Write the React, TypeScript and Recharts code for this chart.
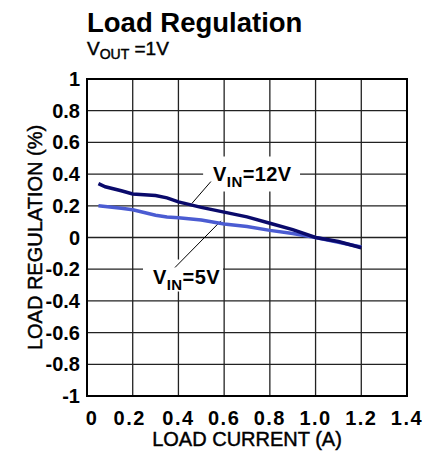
import {
  LineChart,
  Line,
  XAxis,
  YAxis,
  CartesianGrid,
  ReferenceArea,
  ReferenceLine,
} from "recharts";

const FONT = "'Liberation Sans', Arial, Helvetica, sans-serif";

const current = [0.05, 0.08, 0.15, 0.2, 0.3, 0.35, 0.4, 0.5, 0.6, 0.7, 0.8, 0.9, 1.0, 1.1, 1.2];
const vin12 = [0.34, 0.32, 0.295, 0.275, 0.265, 0.25, 0.225, 0.19, 0.16, 0.13, 0.09, 0.05, 0.0, -0.025, -0.065];
const vin5 = [0.2, 0.195, 0.185, 0.175, 0.14, 0.13, 0.125, 0.11, 0.085, 0.07, 0.045, 0.025, 0.0, -0.03, -0.06];

const xTicks = [0, 0.2, 0.4, 0.6, 0.8, 1.0, 1.2, 1.4];
const xTickLabels = ["0", "0.2", "0.4", "0.6", "0.8", "1.0", "1.2", "1.4"];
const yTicks = [1, 0.8, 0.6, 0.4, 0.2, 0, -0.2, -0.4, -0.6, -0.8, -1];
const yTickLabels = ["1", "0.8", "0.6", "0.4", "0.2", "0", "-0.2", "-0.4", "-0.6", "-0.8", "-1"];

const data = current.map((c, i) => ({ current: c, vin12: vin12[i], vin5: vin5[i] }));

// slightly heavier than regular, like the scanned datasheet text
const heavy = { stroke: "#000", strokeWidth: 0.45 };

const XTick = ({ x, y, payload }: any) => {
  const i = xTicks.indexOf(payload.value);
  const off = payload.value === 0 ? 5 : payload.value === 0.2 ? -3 : 0;
  return (
    <text x={x + off} y={y + 29} textAnchor="middle" fontFamily={FONT} fontSize={20} fontWeight="bold" letterSpacing={1.5} fill="#000">
      {xTickLabels[i]}
    </text>
  );
};

const YTick = ({ x, y, payload }: any) => {
  const i = yTicks.indexOf(payload.value);
  return (
    <text x={x} y={y + 7} textAnchor="end" fontFamily={FONT} fontSize={20} fontWeight="bold" fill="#000">
      {yTickLabels[i]}
    </text>
  );
};

const VinLabel = (value: string) => (props: any) => {
  const { x, y } = props.viewBox;
  return (
    <text x={x + 10} y={y + 24} fontFamily={FONT} fontSize={20} fontWeight="bold" letterSpacing={0.4} fill="#000">
      V
      <tspan fontSize={15} dy={6}>IN</tspan>
      <tspan dy={-6}>{value}</tspan>
    </text>
  );
};

export default function App() {
  return (
    <div style={{ position: "absolute", left: 0, top: 0, width: 427, height: 464, background: "#fff" }}>
      <svg width={427} height={70} style={{ position: "absolute", left: 0, top: 0 }}>
        <text x={87} y={32} fontFamily={FONT} fontSize={27.5} fontWeight="bold" fill="#000">
          Load Regulation
        </text>
        <text x={87} y={55} fontFamily={FONT} fontSize={19} fill="#000" {...heavy}>
          V<tspan fontSize={14} dy={4}>OUT</tspan>
          <tspan dy={-4}> =1V</tspan>
        </text>
      </svg>
      <LineChart width={427} height={464} data={data} margin={{ top: 79, right: 20, bottom: 38, left: 27 }}>
        <CartesianGrid stroke="#222" strokeWidth={1.3} />
        <XAxis
          dataKey="current"
          type="number"
          domain={[0, 1.4]}
          ticks={xTicks}
          height={30}
          tickSize={0}
          tickMargin={0}
          tickLine={false}
          axisLine={false}
          tick={<XTick />}
          interval={0}
          label={{
            content: (p: any) => (
              <text
                x={p.viewBox.x + p.viewBox.width / 2}
                y={p.viewBox.y + 50}
                textAnchor="middle"
                fontFamily={FONT}
                fontSize={20}
                fill="#000"
                {...heavy}
              >
                LOAD CURRENT (A)
              </text>
            ),
          }}
        />
        <YAxis
          type="number"
          domain={[-1, 1]}
          ticks={yTicks}
          width={60}
          tickSize={0}
          tickMargin={7}
          tickLine={false}
          axisLine={false}
          tick={<YTick />}
          interval={0}
          label={{
            content: (p: any) => {
              const cx = p.viewBox.x + 15;
              const cy = p.viewBox.y + p.viewBox.height / 2;
              return (
                <text
                  x={cx}
                  y={cy}
                  transform={`rotate(-90 ${cx} ${cy})`}
                  textAnchor="middle"
                  fontFamily={FONT}
                  fontSize={20}
                  fill="#000"
                  {...heavy}
                >
                  LOAD REGULATION (%)
                </text>
              );
            },
          }}
        />
        <ReferenceArea x1={0.508} x2={0.932} y1={0.29} y2={0.511} fill="#fff" fillOpacity={1} stroke="none" label={VinLabel("=12V")} />
        <ReferenceArea x1={0.245} x2={0.595} y1={-0.34} y2={-0.139} fill="#fff" fillOpacity={1} stroke="none" label={VinLabel("=5V")} />
        <ReferenceLine segment={[{ x: 0.459, y: 0.215 }, { x: 0.542, y: 0.353 }]} stroke="#000" strokeWidth={1} />
        <ReferenceLine segment={[{ x: 0.385, y: -0.189 }, { x: 0.586, y: 0.105 }]} stroke="#000" strokeWidth={1} />
        <ReferenceArea x1={0} x2={1.4} y1={-1} y2={1} fill="none" stroke="#000" strokeWidth={2} />
        <Line dataKey="vin5" stroke="#4b5cd2" strokeWidth={3.5} dot={false} isAnimationActive={false} />
        <Line dataKey="vin12" stroke="#0a0a6b" strokeWidth={3.5} dot={false} isAnimationActive={false} />
      </LineChart>
    </div>
  );
}
